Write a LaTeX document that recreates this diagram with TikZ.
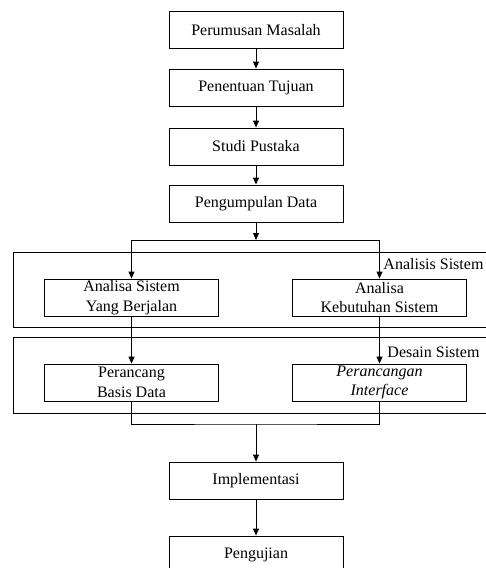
\documentclass[tikz,border=0pt]{standalone}
\usepackage{fontspec}
\setmainfont{Liberation Serif}
\usetikzlibrary{arrows.meta}

\begin{document}
\begin{tikzpicture}[x=1pt,y=-1pt,line width=0.9pt,
    font=\fontsize{16}{19.5}\selectfont,
    box/.style={draw,minimum width=174pt,minimum height=37pt,
                align=center,inner sep=0pt},
    arr/.style={-{Triangle[length=7pt,width=6pt]}}]
\useasboundingbox (0,0) rectangle (485,568);
%The main line of steps, one under the other
\node[box] (rumus) at (256,30)    {Perumusan Masalah};
\node[box] (tuju)  at (256,87.5)  {Penentuan Tujuan};
\node[box] (studi) at (256,146.5) {Studi Pustaka};
\node[box] (data)  at (256,203.5) {Pengumpulan Data};
%The two framed stages, each with its own label
\draw (13,252) rectangle (495,327);
\draw (13,337) rectangle (495,413);
\node[anchor=west,inner sep=0pt] (lbla) at (383,264) {Analisis Sistem};
\node[anchor=west,inner sep=0pt] (lbld) at (387,352) {Desain Sistem};
\node[box] (jalan)  at (131.5,297.5) {Analisa Sistem\\Yang Berjalan};
\node[box] (butuh)  at (379.5,297.5) {Analisa\\Kebutuhan Sistem};
\node[box] (basis)  at (131.5,382.5) {Perancang\\Basis Data};
\node[box] (inter)  at (379.5,382.5) {\itshape Perancangan\\\itshape Interface};
%The last steps
\node[box] (impl) at (256,480.5) {Implementasi};
\node[box] (uji)  at (256,554.5) {Pengujian};
%Points where the line splits and joins again
\coordinate (split) at (256,240);
\coordinate (join)  at (256,424);
\draw[arr] (rumus) -- (tuju);
\draw[arr] (tuju) -- (studi);
\draw[arr] (studi) -- (data);
\draw[arr] (data) -- (split);
\draw[arr] (split) -| (jalan);
\draw[arr] (split) -| (butuh);
\draw[arr] (jalan) -- (basis);
\draw[arr] (butuh) -- (inter);
\draw (basis) |- (join) -| (inter);
\draw[arr] (join) -- (impl);
\draw[arr] (impl) -- (uji);
\end{tikzpicture}
\end{document}
